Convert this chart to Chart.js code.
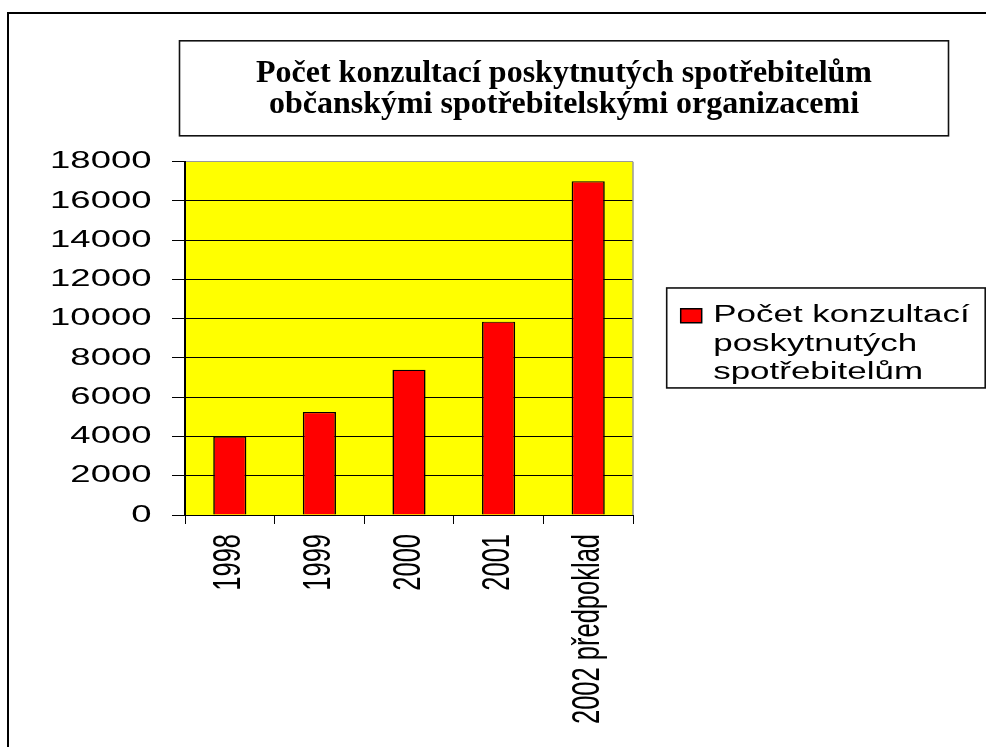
<!DOCTYPE html>
<html>
<head>
<meta charset="utf-8">
<script src="https://cdn.jsdelivr.net/npm/chart.js@4.4.1/dist/chart.umd.min.js"></script>
<style>
  html, body { margin: 0; padding: 0; background: #ffffff; }
  canvas { display: block; }
</style>
</head>
<body>
<canvas id="chart" width="986" height="747"></canvas>
<script>
// ---------------- data ----------------
const TITLE_LINES = [
  'Počet konzultací poskytnutých spotřebitelům',
  'občanskými spotřebitelskými organizacemi'
];
const CATEGORIES = ['1998', '1999', '2000', '2001', '2002 předpoklad'];
const VALUES = [4000, 5250, 7400, 9850, 17000];
const SERIES_LINES = ['Počet konzultací', 'poskytnutých', 'spotřebitelům'];
const Y_MIN = 0;
const Y_MAX = 18000;
const Y_STEP = 2000;

// ---------------- look ----------------
const W = 986, H = 747;
const STRETCH = 1.52;                       // the original sans text is drawn horizontally widened
const WIDE_MARK = 'xwide';
const WIDE = '"Liberation Sans", Arial, ' + WIDE_MARK;
const SERIF = '"Liberation Serif", "Times New Roman", serif';
const PAD_LEFT = 40;
const PLOT_LEFT = 185, PLOT_RIGHT = 633, PLOT_BOTTOM = 515;
const TITLE_CENTER = 564;
const LEGEND_FONT = 23, LEGEND_BOX_W = 21, LEGEND_BOX_H = 14, LEGEND_PAD = 47.7;

const canvas = document.getElementById('chart');
const ctx = canvas.getContext('2d');

// widened text rendering for the sans-serif font (keeps text real)
(function widen(c) {
  const fill = c.fillText;
  const measure = c.measureText;
  c.fillText = function (text, x, y, maxWidth) {
    if (this.font.indexOf(WIDE_MARK) < 0) {
      return maxWidth === undefined ? fill.call(this, text, x, y) : fill.call(this, text, x, y, maxWidth);
    }
    const m = this.getTransform();
    const p = m.transformPoint(new DOMPoint(x, y));
    this.save();
    this.setTransform(new DOMMatrix().translate(p.x, p.y).scale(STRETCH, 1).translate(-p.x, -p.y).multiply(m));
    fill.call(this, text, x, y);
    this.restore();
  };
  c.measureText = function (text) {
    const r = measure.call(this, text);
    if (this.font.indexOf(WIDE_MARK) < 0) return r;
    return {
      width: r.width * STRETCH,
      actualBoundingBoxLeft: r.actualBoundingBoxLeft * STRETCH,
      actualBoundingBoxRight: r.actualBoundingBoxRight * STRETCH,
      actualBoundingBoxAscent: r.actualBoundingBoxAscent,
      actualBoundingBoxDescent: r.actualBoundingBoxDescent
    };
  };
})(ctx);

// legend width -> right layout padding so the plot ends where it should
ctx.save();
ctx.font = LEGEND_FONT + 'px ' + WIDE;
const longest = SERIES_LINES.reduce((a, b) => (a.length > b.length ? a : b));
const legendWidth = LEGEND_PAD + LEGEND_BOX_W + LEGEND_FONT / 2 + ctx.measureText(longest).width + 10;
ctx.restore();
const PAD_RIGHT = W - PLOT_RIGHT - legendWidth;

const framePlugin = {
  id: 'frame',
  afterLayout(chart) {
    // the title is centred over its own box, not over the canvas
    const tb = chart.titleBlock;
    const shift = TITLE_CENTER - (tb.left + tb.right) / 2;
    tb.left += shift;
    tb.right += shift;
  },
  beforeDraw(chart) {
    const c = chart.ctx, a = chart.chartArea;
    c.save();
    c.fillStyle = '#ffffff';
    c.fillRect(0, 0, chart.width, chart.height);
    c.strokeStyle = '#000000';
    c.lineWidth = 2;
    c.strokeRect(8, 13, chart.width + 40, chart.height + 40);
    c.fillStyle = '#ffff00';
    c.fillRect(a.left, a.top, a.right - a.left, a.bottom - a.top);
    c.restore();
  },
  afterDraw(chart) {
    const c = chart.ctx, a = chart.chartArea;
    c.save();
    // plot area right edge
    c.strokeStyle = '#9a9a9a';
    c.lineWidth = 1.5;
    c.beginPath();
    c.moveTo(a.right, a.top);
    c.lineTo(a.right, a.bottom);
    c.stroke();
    // title box
    const tb = chart.titleBlock;
    const cx = (tb.left + tb.right) / 2;
    c.strokeStyle = '#111111';
    c.lineWidth = 1.6;
    c.strokeRect(cx - 384.5, tb.top + 0.8, 769, 95);
    // legend box
    const hb = chart.legend.legendHitBoxes[0];
    if (hb) {
      c.strokeRect(hb.left - 14, hb.top - 16.4, hb.width + 15.5 + 14, hb.height + 14.4);
    }
    c.restore();
  }
};

new Chart(ctx, {
  type: 'bar',
  data: {
    labels: CATEGORIES,
    datasets: [{
      label: SERIES_LINES.join(' '),
      data: VALUES,
      backgroundColor: '#ff0000',
      borderColor: '#000000',
      borderWidth: { top: 1.2, left: 1.6, right: 1.6, bottom: 0 },
      borderSkipped: false,
      barPercentage: 0.37,
      categoryPercentage: 1
    }]
  },
  options: {
    responsive: false,
    animation: false,
    devicePixelRatio: 1,
    layout: { padding: { left: PAD_LEFT, right: PAD_RIGHT, top: 40, bottom: 0 } },
    plugins: {
      title: {
        display: true,
        text: TITLE_LINES,
        color: '#000000',
        align: 'center',
        font: { family: SERIF, size: 32, weight: 'bold', lineHeight: '31px' },
        padding: { top: 18.2, bottom: 41.5 }
      },
      legend: {
        position: 'right',
        fullSize: false,
        align: 'center',
        maxWidth: 600,
        title: { display: true, text: ' ', color: '#000000', font: { size: 2, lineHeight: 1 }, padding: { top: 0, bottom: 15.6 } },
        labels: {
          boxWidth: LEGEND_BOX_W,
          boxHeight: LEGEND_BOX_H,
          padding: LEGEND_PAD,
          color: '#000000',
          font: { family: WIDE, size: LEGEND_FONT, lineHeight: 1.24 },
          generateLabels: (chart) => chart.data.datasets.map((ds, i) => ({
            text: SERIES_LINES,
            fillStyle: ds.backgroundColor,
            strokeStyle: '#000000',
            fontColor: '#000000',
            lineWidth: 1.5,
            hidden: false,
            datasetIndex: i
          }))
        }
      },
      tooltip: { enabled: false }
    },
    scales: {
      x: {
        grid: { display: true, drawOnChartArea: false, tickLength: 9, tickColor: '#000000', offset: true },
        border: { color: '#000000', width: 1 },
        ticks: {
          autoSkip: false, minRotation: 90, maxRotation: 90, padding: 10,
          color: '#000000', font: { family: WIDE, size: 25.5 }
        },
        afterFit: (s) => { s.height = H - PLOT_BOTTOM; }
      },
      y: {
        min: Y_MIN,
        max: Y_MAX,
        grid: {
          color: (c) => (c.tick && c.tick.value === Y_MAX ? '#9a9a9a' : '#000000'),
          tickLength: 13,
          tickColor: '#000000'
        },
        border: { color: '#000000', width: 2 },
        ticks: {
          stepSize: Y_STEP, padding: 20.5, color: '#000000',
          font: { family: WIDE, size: 24 },
          callback: (v) => String(v)
        },
        afterFit: (s) => { s.width = PLOT_LEFT - PAD_LEFT; }
      }
    }
  },
  plugins: [framePlugin]
});
</script>
</body>
</html>
